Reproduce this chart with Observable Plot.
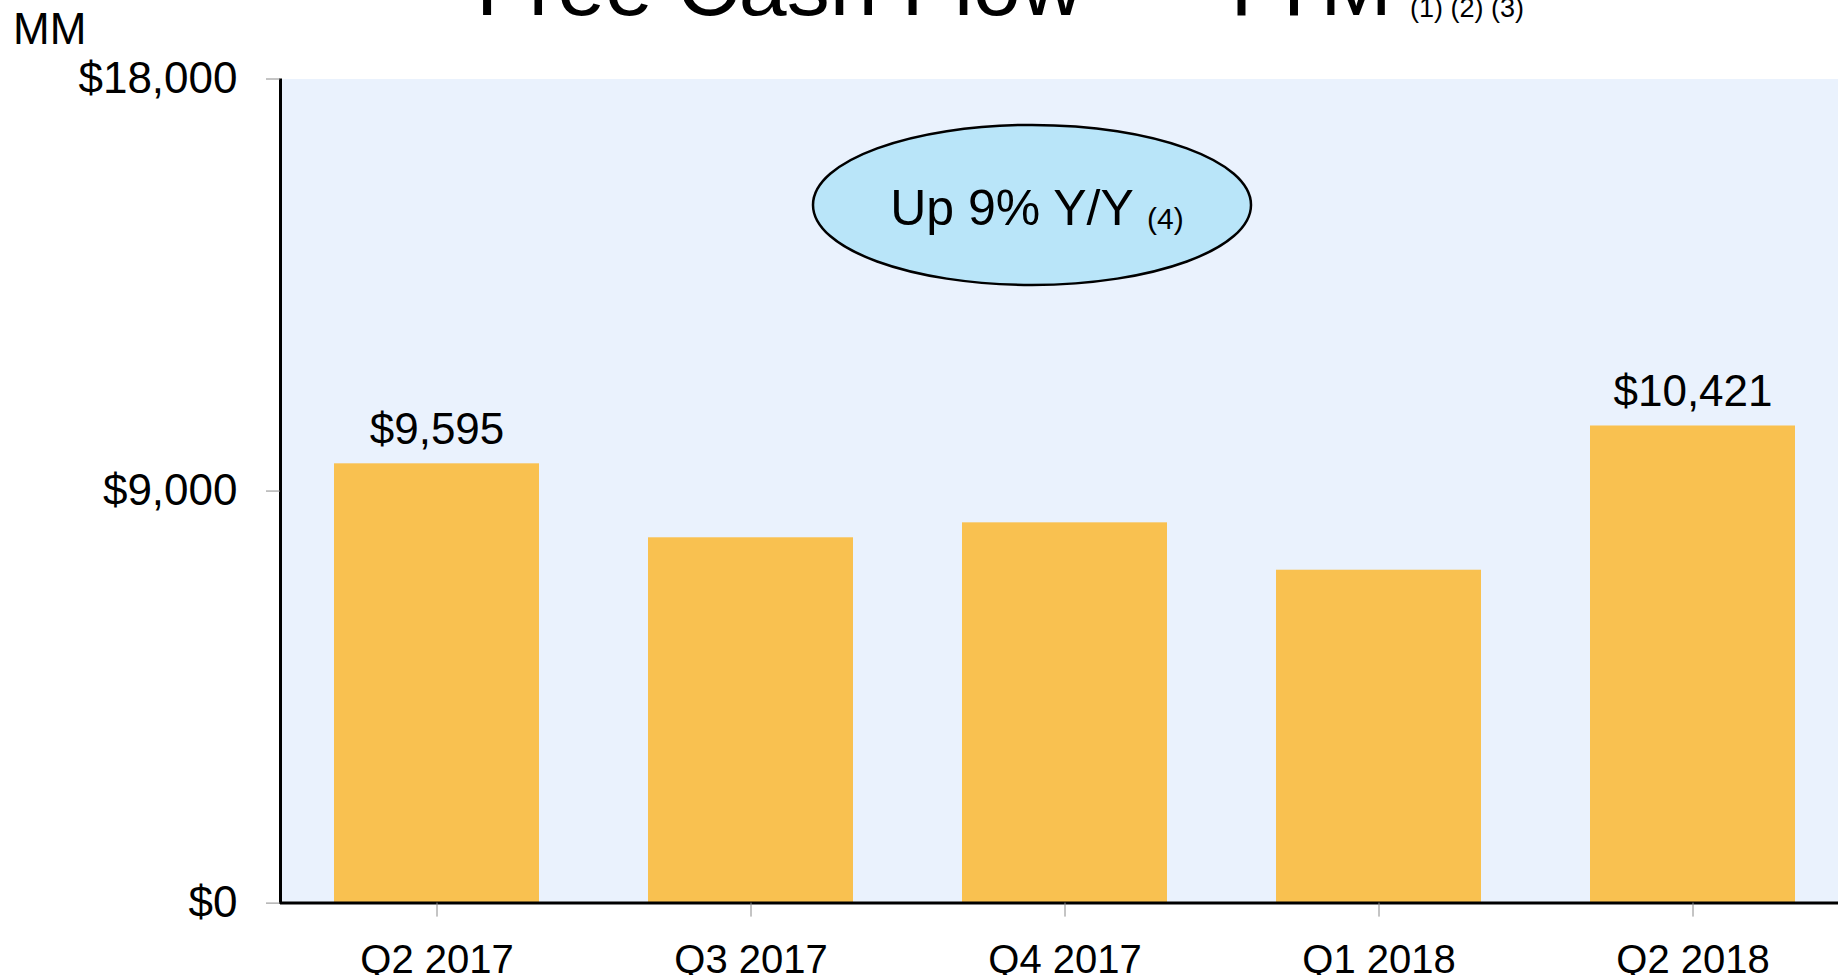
<!DOCTYPE html>
<html><head><meta charset="utf-8">
<script src="https://cdn.jsdelivr.net/npm/d3@7"></script>
<script src="https://cdn.jsdelivr.net/npm/@observablehq/plot@0.6"></script>
<style>
html,body{margin:0;padding:0;overflow:hidden;background:#fff;width:1838px;height:975px;}
body{position:relative;font-family:"Liberation Sans",Arial,sans-serif;}
#chart{position:absolute;left:0;top:0;}
.t{position:absolute;white-space:nowrap;line-height:1;color:#000;z-index:2;}
</style></head><body>
<div id="chart"></div>
<div class="t" style="left:476px;top:-58px;font-size:86px;">Free Cash Flow — TTM</div>
<div class="t" style="left:1410px;top:-5px;font-size:27px;">(1) (2) (3)</div>
<div class="t" style="left:13px;top:7px;font-size:44px;">MM</div>
<script>
// Data
const quarters = ["Q2 2017", "Q3 2017", "Q4 2017", "Q1 2018", "Q2 2018"];
const fcf = [9595, 7979, 8306, 7271, 10421];
const barLabels = ["$9,595", null, null, null, "$10,421"];
const yTicks = [0, 9000, 18000];
const noteText = ["Up 9% Y/Y"];
const noteRef = ["(4)"];
const noteQuarter = ["Q4 2017"];
const noteValue = [15250];

const data = quarters.map((q, i) => ({quarter: q, value: fcf[i], label: barLabels[i]}));
const notes = noteText.map((t, i) => ({text: t, ref: noteRef[i], quarter: noteQuarter[i], value: noteValue[i]}));

// Elliptical symbol for the callout
const ellipseSymbol = {
  draw(ctx, size) {
    const ry = Math.sqrt(size / Math.PI), rx = ry * 2.7375, k = 0.5522847498;
    ctx.moveTo(rx, 0);
    ctx.bezierCurveTo(rx, k * ry, k * rx, ry, 0, ry);
    ctx.bezierCurveTo(-k * rx, ry, -rx, k * ry, -rx, 0);
    ctx.bezierCurveTo(-rx, -k * ry, -k * rx, -ry, 0, -ry);
    ctx.bezierCurveTo(k * rx, -ry, rx, -k * ry, rx, 0);
    ctx.closePath();
  }
};

const leftAxisLine = (index, scales, values, dims) => {
  const ns = "http://www.w3.org/2000/svg";
  const l = document.createElementNS(ns, "line");
  const x = dims.marginLeft + 0.5;
  l.setAttribute("x1", x); l.setAttribute("x2", x);
  l.setAttribute("y1", scales.y(0) + 1.5); l.setAttribute("y2", scales.y(18000));
  l.setAttribute("stroke", "#000"); l.setAttribute("stroke-width", 3);
  return l;
};

const plot = Plot.plot({
  width: 1850, height: 975,
  marginLeft: 280, marginRight: 0, marginTop: 78.5, marginBottom: 72.4,
  style: {fontFamily: "'Liberation Sans', Arial, sans-serif", background: "transparent", maxWidth: "none", overflow: "visible", color: "#000"},
  x: {domain: quarters, paddingInner: 0.347, paddingOuter: 0.1735, label: null},
  y: {domain: [0, 18000], label: null},
  marks: [
    Plot.frame({fill: "#EAF2FD", stroke: "none"}),
    Plot.barY(data, {x: "quarter", y: "value", fill: "#F9C150"}),
    Plot.ruleY([0], {stroke: "#000", strokeWidth: 3}),
    leftAxisLine,
    Plot.axisY({ticks: yTicks, tickFormat: d => "$" + d3.format(",")(d), tickSize: 14, tickPadding: 29, fontSize: 44, stroke: "#8a8a8a", fill: "#000", label: null}),
    Plot.axisX({tickSize: 14, tickPadding: 27, fontSize: 40, stroke: "#8a8a8a", fill: "#000", label: null}),
    Plot.text(data.filter(d => d.label), {x: "quarter", y: "value", text: "label", dy: -20, lineAnchor: "bottom", fontSize: 44, fill: "#000"}),
    Plot.dot(notes, {x: "quarter", y: "value", symbol: ellipseSymbol, r: 80, fill: "#B9E5F9", stroke: "#000", strokeWidth: 2.5, dx: -33}),
    Plot.text(notes, {x: "quarter", y: "value", text: "text", fontSize: 50, lineAnchor: "bottom", dx: -53, dy: 20, fill: "#000"}),
    Plot.text(notes, {x: "quarter", y: "value", text: "ref", fontSize: 30, textAnchor: "start", lineAnchor: "bottom", dx: 82, dy: 24, fill: "#000"})
  ]
});
document.getElementById("chart").appendChild(plot);
</script>
</body></html>
